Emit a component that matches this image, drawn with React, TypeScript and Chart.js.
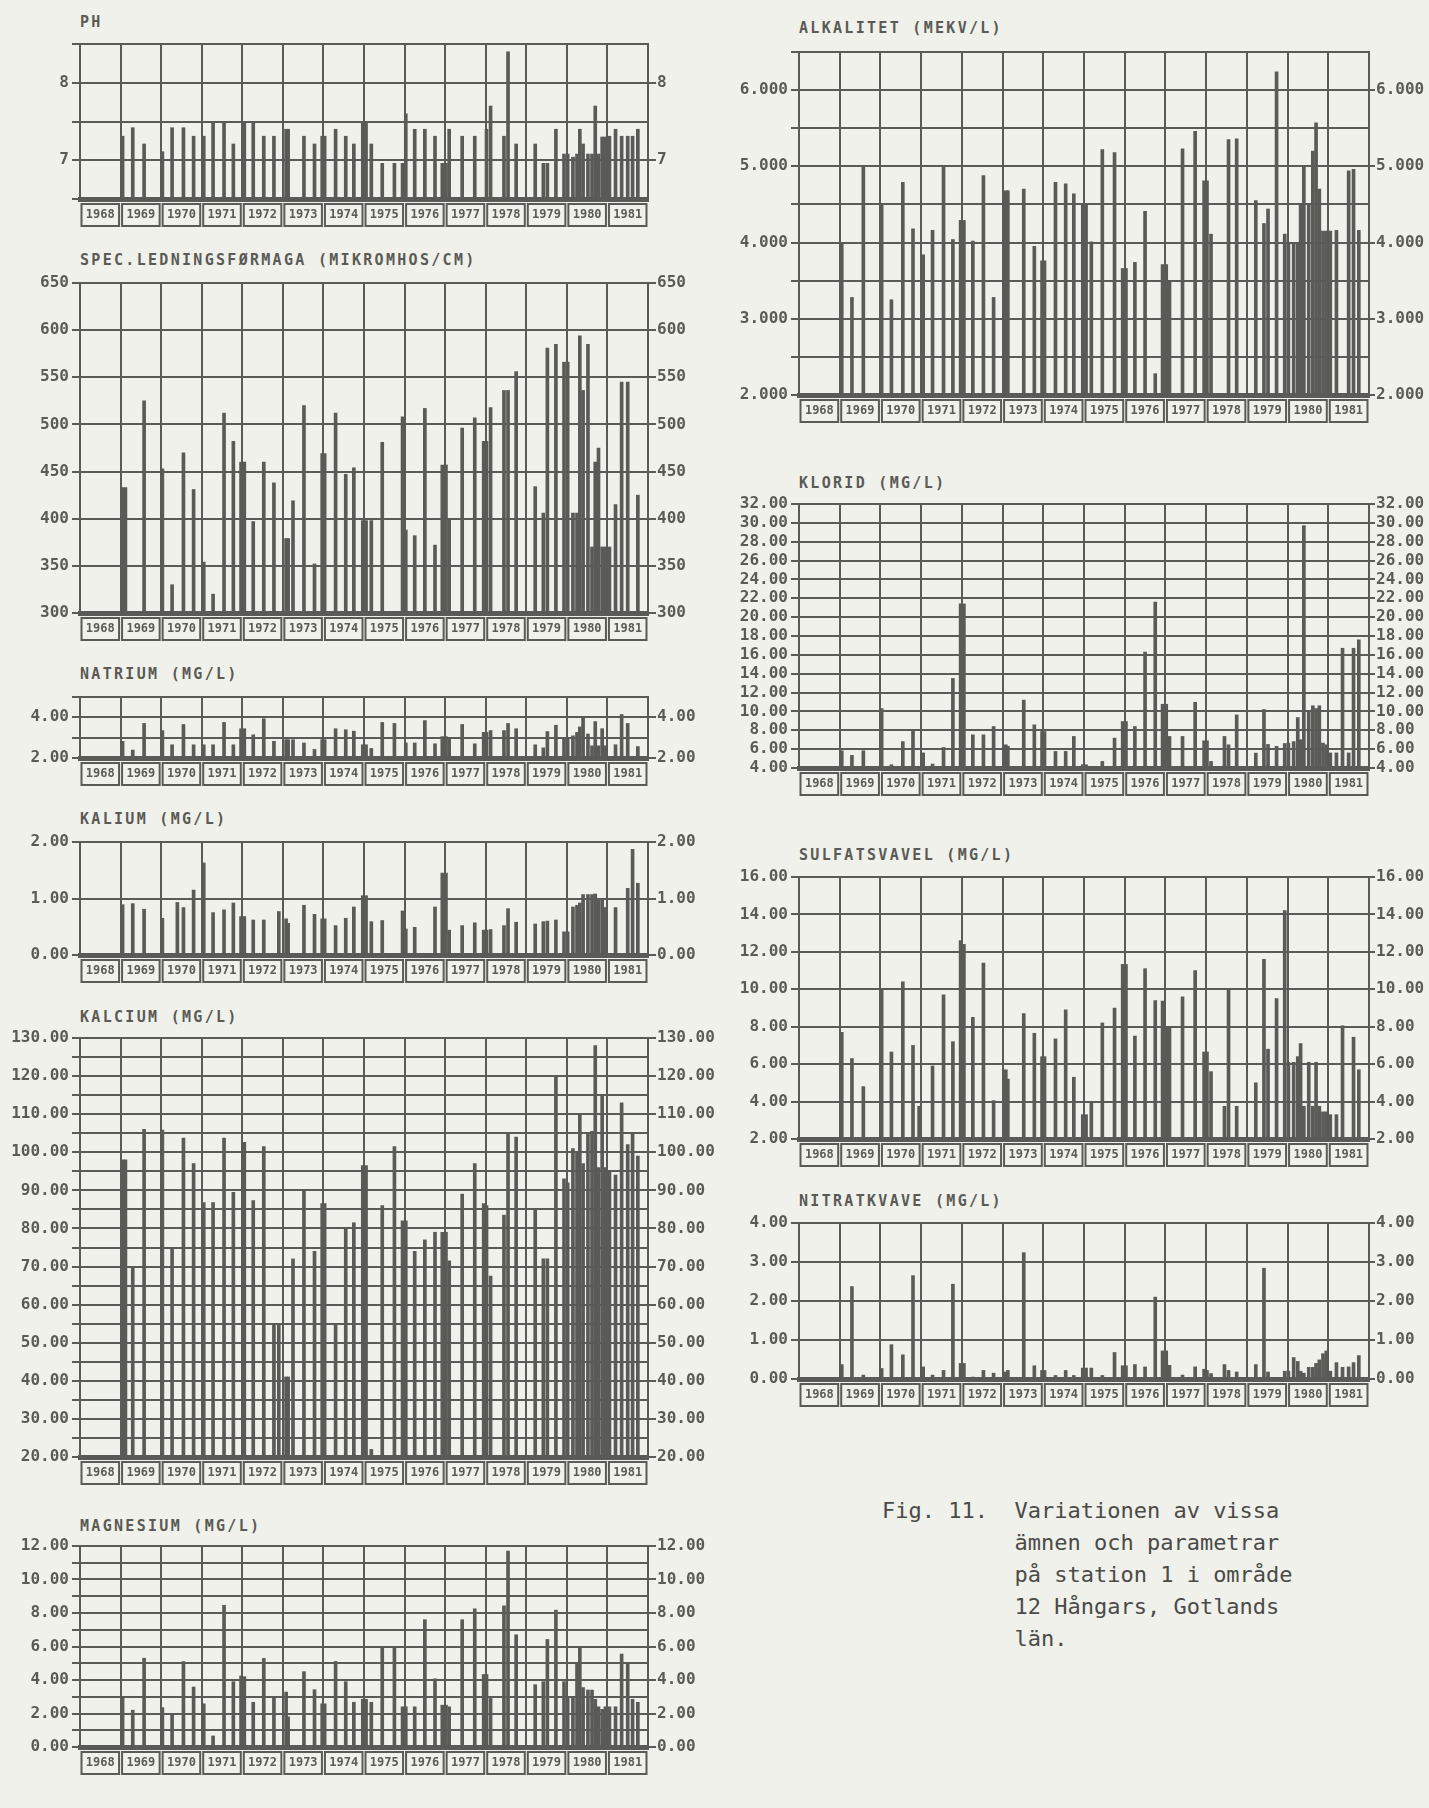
import React, { useEffect, useRef } from "react";
import { Chart, registerables } from "chart.js";

Chart.register(...registerables);

const INK = "#5a5a56";
const FONT = '"DejaVu Sans Mono", "Liberation Mono", monospace';
const N = null;

// ---------------- data ----------------
const YEARS = [1968, 1969, 1970, 1971, 1972, 1973, 1974, 1975, 1976, 1977, 1978, 1979, 1980, 1981];

// sampling dates (decimal years)
const DATES = [
  1969.05, 1969.12, 1969.3, 1969.58, 1969.85,
  1970.03, 1970.27, 1970.4, 1970.55, 1970.8, 1970.95,
  1971.05, 1971.28, 1971.55, 1971.78, 1971.97,
  1972.05, 1972.27, 1972.53, 1972.78, 1972.9,
  1973.08, 1973.13, 1973.25, 1973.52, 1973.78, 1973.97,
  1974.03, 1974.3, 1974.55, 1974.75, 1974.97,
  1975.05, 1975.18, 1975.45, 1975.75, 1975.95,
  1976.03, 1976.25, 1976.5, 1976.75, 1976.93,
  1977.02, 1977.1, 1977.42, 1977.73, 1977.95,
  1978.02, 1978.12, 1978.45, 1978.55, 1978.75, 1978.95,
  1979.22, 1979.42, 1979.52, 1979.73, 1979.93,
  1980.02, 1980.15, 1980.25, 1980.32, 1980.4, 1980.52, 1980.62, 1980.7, 1980.78, 1980.87, 1980.95,
  1981.05, 1981.2, 1981.35, 1981.5, 1981.62, 1981.75,
];

const PH = [
  7.31, N, 7.42, 7.21, N,
  7.11, 7.42, N, 7.42, 7.31, N,
  7.31, 7.5, 7.5, 7.21, N,
  7.5, 7.5, 7.31, 7.31, N,
  7.4, 7.4, N, 7.31, 7.21, 7.31,
  7.31, 7.4, 7.31, 7.21, 7.5,
  7.5, 7.21, 6.96, 6.96, 6.96,
  7.6, 7.4, 7.4, 7.31, 6.96,
  6.96, 7.4, 7.31, 7.31, N,
  7.4, 7.7, 7.31, 8.4, 7.21, N,
  7.21, 6.96, 6.96, 7.4, 7.08,
  7.08, 7.04, 7.08, 7.4, 7.21, 7.08, 7.08, 7.7, 7.08, 7.3, 7.3,
  7.31, 7.4, 7.31, 7.31, 7.31, 7.4,
];

const KONDUKTIVITET = [
  433, 433, N, 525, N,
  453, 330, N, 470, 431, N,
  354, 320, 512, 482, 460,
  460, 397, 460, 438, N,
  379, 379, 419, 520, 352, 469,
  469, 512, 447, 454, 398,
  398, 398, 481, N, 508,
  388, 382, 517, 372, 457,
  457, 399, 496, 507, 482,
  482, 518, 536, 536, 556, N,
  434, 406, 581, 585, 566,
  566, 406, 406, 594, 536, 585, 370, 460, 475, 370, 370,
  370, 415, 545, 545, N, 425,
];

const NATRIUM = [
  2.82, N, 2.39, 3.7, N,
  3.35, 2.65, N, 3.65, 2.65, N,
  2.65, 2.65, 3.75, 2.65, 3.44,
  3.44, 3.14, 3.93, 2.82, N,
  2.9, 2.9, 2.9, 2.74, 2.42, 2.9,
  2.9, 3.44, 3.39, 3.32, 2.65,
  2.65, 2.47, 3.75, 3.7, N,
  2.74, 2.74, 3.84, 2.7, 3.05,
  3.05, 3.0, 3.65, 2.7, 3.26,
  3.26, 3.35, 3.35, 3.7, 3.44, N,
  2.65, 2.5, 3.3, 3.61, 2.95,
  2.95, 3.09, 3.26, 3.53, 4.05, 3.18, 2.6, 3.79, 2.6, 3.44, 2.6,
  N, 2.65, 4.14, 3.7, N, 2.56,
];

const KALIUM = [
  0.89, N, 0.91, 0.81, N,
  0.65, N, 0.93, 0.84, 1.15, N,
  1.63, 0.75, 0.8, 0.92, 0.68,
  0.68, 0.62, 0.62, N, 0.77,
  0.64, 0.56, N, 0.88, 0.72, 0.64,
  0.64, 0.52, 0.65, 0.85, 1.05,
  1.05, 0.59, 0.61, N, 0.78,
  0.46, 0.49, N, 0.85, 1.45,
  1.45, 0.44, 0.52, 0.57, 0.44,
  0.44, 0.45, 0.52, 0.82, 0.58, N,
  0.55, 0.59, 0.6, 0.62, 0.41,
  0.41, 0.85, 0.88, 0.92, 1.07, 1.07, 1.07, 1.08, 1.0, 1.0, 0.84,
  N, 0.84, N, 1.18, 1.87, 1.27,
];

const KALCIUM = [
  98, 98, 70, 106, N,
  105.8, 75, N, 103.7, 97, N,
  86.8, 86.8, 103.7, 89.5, N,
  102.6, 87.3, 101.5, 54.8, 55,
  41, 41, 72, 90, 74, 86.5,
  86.5, 55, 80, 81.5, 96.5,
  96.5, 22, 86, 101.5, 82,
  82, 74, 77, 79, 79,
  79, 71.5, 89, 97, 86.5,
  86, 67.5, 83.5, 105, 104, N,
  85, 72, 72, 120, 93,
  92, 101, 100, 110, 97, 105, 105.5, 128, 96, 115, 96,
  95, 94, 113, 102, 105, 99,
];

const MAGNESIUM = [
  3.0, N, 2.2, 5.3, N,
  2.35, 1.97, N, 5.1, 3.58, N,
  2.58, 0.66, 8.46, 3.9, 4.24,
  4.2, 2.67, 5.29, 3.0, N,
  3.28, 1.8, N, 4.5, 3.42, 2.58,
  2.58, 5.11, 3.9, 2.67, 2.85,
  2.85, 2.67, 5.9, 5.9, 2.4,
  2.4, 2.4, 7.6, 4.07, 2.5,
  2.5, 2.4, 7.6, 8.25, 4.33,
  4.33, 2.9, 8.43, 11.7, 6.7, N,
  3.72, 3.9, 6.42, 8.17, 3.9,
  3.0, 3.0, 5.0, 6.0, 3.55, 3.4, 3.4, 2.85, 2.4, 2.25, 2.4,
  2.4, 2.4, 5.55, 5.0, 2.85, 2.67,
];

const ALKALITET = [
  4.0, N, 3.28, 5.0, N,
  4.49, 3.25, N, 4.79, 4.18, N,
  3.84, 4.16, 5.0, 4.04, 4.29,
  4.29, 4.02, 4.88, 3.28, N,
  4.68, 4.68, N, 4.7, 3.95, 3.76,
  3.76, 4.79, 4.77, 4.64, 4.5,
  4.5, 4.01, 5.22, 5.18, 3.66,
  3.66, 3.74, 4.41, 2.28, 3.71,
  3.71, 3.5, 5.23, 5.46, 4.81,
  4.81, 4.11, N, 5.35, 5.36, N,
  4.55, 4.25, 4.44, 6.24, 4.11,
  4.0, 3.98, 4.0, 4.5, 5.0, 4.5, 5.2, 5.57, 4.7, 4.15, 4.15,
  4.15, 4.16, N, 4.94, 4.96, 4.16,
];

const KLORID = [
  5.83, N, 5.34, 5.83, N,
  10.3, 4.35, N, 6.8, 7.9, N,
  5.6, 4.42, 6.18, 13.5, 21.4,
  21.4, 7.52, 7.52, 8.4, N,
  6.46, 6.3, N, 11.2, 8.58, 7.87,
  7.87, 5.76, 5.76, 7.35, 4.35,
  4.35, 4.18, 4.7, 7.17, 8.93,
  8.93, 8.4, 16.3, 21.6, 10.76,
  10.76, 7.35, 7.35, 10.97, 6.89,
  6.89, 4.7, 7.35, 6.46, 9.63, N,
  5.58, 10.2, 6.5, 6.3, 6.6,
  6.64, 6.8, 9.35, 7.0, 29.7, 10.0, 10.6, 10.3, 10.6, 6.64, 6.46,
  5.6, 5.6, 16.7, 5.6, 16.7, 17.6,
];

const SULFATSVAVEL = [
  7.7, N, 6.3, 4.8, N,
  10.0, 6.65, N, 10.4, 7.0, 3.75,
  N, 5.9, 9.7, 7.2, 12.6,
  12.4, 8.5, 11.4, 4.05, N,
  5.7, 5.2, N, 8.7, 7.65, 6.4,
  6.4, 7.35, 8.9, 5.3, 3.3,
  3.3, 4.0, 8.2, 9.0, 11.33,
  11.33, 7.5, 11.1, 9.4, 9.37,
  8.0, 8.0, 9.6, 11.0, 6.65,
  6.65, 5.6, 3.75, 10.0, 3.75, N,
  5.0, 11.6, 6.8, 9.5, 14.2,
  6.1, 6.1, 6.4, 7.1, 3.75, 6.1, 3.75, 6.1, 3.75, 3.45, 3.45,
  3.3, 3.3, 8.05, N, 7.44, 5.7,
];

const NITRATKVAVE = [
  0.37, N, 2.37, 0.1, N,
  0.27, 0.88, N, 0.62, 2.65, N,
  0.31, 0.1, 0.22, 2.43, 0.4,
  0.4, 0.05, 0.22, 0.15, N,
  0.18, 0.22, N, 3.24, 0.34, 0.22,
  0.22, 0.09, 0.22, 0.09, 0.28,
  0.28, 0.28, 0.09, 0.68, 0.34,
  0.34, 0.37, 0.31, 2.1, 0.72,
  0.72, 0.35, 0.1, 0.31, 0.25,
  0.22, 0.14, 0.37, 0.22, 0.18, N,
  0.37, 2.84, 0.18, 0.04, 0.2,
  0.2, 0.55, 0.45, 0.2, 0.15, 0.3, 0.3, 0.4, 0.49, 0.65, 0.72,
  0.2, 0.42, 0.3, 0.31, 0.42, 0.6,
];

const CAPTION_LINES = [
  "Fig. 11.  Variationen av vissa",
  "          ämnen och parametrar",
  "          på station 1 i område",
  "          12 Hångars, Gotlands",
  "          län.",
];

// ---------------- layout ----------------
type Col = "L" | "R";
const COLS: Record<Col, { l: number; r: number; lw: number; rw: number; tick: number }> = {
  L: { l: 80, r: 648, lw: 78, rw: 72, tick: 8 },
  R: { l: 799, r: 1369, lw: 90, rw: 60, tick: 6 },
};

interface PanelDef {
  title: string;
  values: (number | null)[];
  min: number;
  max: number;
  step: number;
  labelStep: number;
  decimals: number;
  col: Col;
  top: number;
  bottom: number;
  titleY: number;
}

const PANELS: PanelDef[] = [
  { title: "PH", values: PH, min: 6.5, max: 8.5, step: 0.5, labelStep: 1, decimals: 0, col: "L", top: 44, bottom: 199, titleY: 22 },
  { title: "SPEC.LEDNINGSFØRMAGA (MIKROMHOS/CM)", values: KONDUKTIVITET, min: 300, max: 650, step: 50, labelStep: 50, decimals: 0, col: "L", top: 283, bottom: 613, titleY: 260 },
  { title: "NATRIUM (MG/L)", values: NATRIUM, min: 2, max: 5, step: 1, labelStep: 2, decimals: 2, col: "L", top: 697, bottom: 758, titleY: 674 },
  { title: "KALIUM (MG/L)", values: KALIUM, min: 0, max: 2, step: 1, labelStep: 1, decimals: 2, col: "L", top: 842, bottom: 955, titleY: 819 },
  { title: "KALCIUM (MG/L)", values: KALCIUM, min: 20, max: 130, step: 5, labelStep: 10, decimals: 2, col: "L", top: 1038, bottom: 1457, titleY: 1017 },
  { title: "MAGNESIUM (MG/L)", values: MAGNESIUM, min: 0, max: 12, step: 1, labelStep: 2, decimals: 2, col: "L", top: 1546, bottom: 1747, titleY: 1526 },
  { title: "ALKALITET (MEKV/L)", values: ALKALITET, min: 2, max: 6.5, step: 0.5, labelStep: 1, decimals: 3, col: "R", top: 52, bottom: 395, titleY: 28 },
  { title: "KLORID (MG/L)", values: KLORID, min: 4, max: 32, step: 2, labelStep: 2, decimals: 2, col: "R", top: 504, bottom: 768, titleY: 483 },
  { title: "SULFATSVAVEL (MG/L)", values: SULFATSVAVEL, min: 2, max: 16, step: 2, labelStep: 2, decimals: 2, col: "R", top: 877, bottom: 1139, titleY: 855 },
  { title: "NITRATKVAVE (MG/L)", values: NITRATKVAVE, min: 0, max: 4, step: 1, labelStep: 1, decimals: 2, col: "R", top: 1223, bottom: 1379, titleY: 1201 },
];

const PADT = 12;
const BOTTOM_H = 34;

const yearStrip = {
  id: "yearStrip",
  afterDraw(chart: any) {
    const { ctx, chartArea, scales } = chart;
    const x = scales.x;
    ctx.save();
    ctx.strokeStyle = INK;
    ctx.lineWidth = 2;
    const y0 = chartArea.bottom + 5;
    const h = 22;
    for (const yr of YEARS) {
      const a = x.getPixelForValue(yr);
      const b = x.getPixelForValue(yr + 1);
      ctx.strokeRect(a + 1.5, y0, b - a - 3, h);
    }
    ctx.restore();
  },
};

function Panel({ def }: { def: PanelDef }) {
  const ref = useRef<HTMLCanvasElement | null>(null);
  const c = COLS[def.col];
  const w = c.lw + (c.r - c.l) + c.rw;
  const h = PADT + (def.bottom - def.top) + BOTTOM_H;

  useEffect(() => {
    if (!ref.current) return;
    const eps = 1e-6;
    const isLabel = (v: number) => Math.abs(v / def.labelStep - Math.round(v / def.labelStep)) < eps;
    const fmt = (v: number) => v.toFixed(def.decimals);
    const gridVals: number[] = [];
    for (let v = def.min; v <= def.max + eps; v += def.step) gridVals.push(+v.toFixed(6));
    const labelVals = gridVals.filter(isLabel);
    const data = DATES.map((d, i) => ({ x: d, y: def.values[i] })).filter((p) => p.y !== null);
    const tickFont = { family: FONT, size: 16, weight: "bold" as const };

    const chart = new Chart(ref.current, {
      type: "bar",
      data: {
        datasets: [
          {
            data: data as any,
            backgroundColor: INK,
            borderWidth: 0,
            barThickness: 3,
            base: def.min,
            xAxisID: "x",
            yAxisID: "y",
          } as any,
        ],
      },
      options: {
        animation: false,
        responsive: false,
        devicePixelRatio: 1,
        layout: { padding: { top: PADT, left: 0, right: 0, bottom: 0 } },
        plugins: { legend: { display: false }, tooltip: { enabled: false }, title: { display: false } },
        scales: {
          x: {
            type: "linear",
            min: 1968,
            max: 1982,
            offset: false,
            afterBuildTicks: (s: any) => {
              const t: { value: number }[] = [];
              for (const y of YEARS) {
                t.push({ value: y });
                t.push({ value: y + 0.5 });
              }
              t.push({ value: 1982 });
              s.ticks = t;
            },
            afterFit: (s: any) => {
              s.height = BOTTOM_H;
              s.paddingLeft = 0;
              s.paddingRight = 0;
            },
            grid: {
              offset: false,
              color: (ctx: any) => (ctx.tick && Number.isInteger(ctx.tick.value) ? INK : "rgba(0,0,0,0)"),
              lineWidth: 2,
              drawTicks: false,
            },
            border: { display: true, color: INK, width: 5 },
            ticks: {
              autoSkip: false,
              maxRotation: 0,
              minRotation: 0,
              padding: 9,
              color: INK,
              font: { family: FONT, size: 12, weight: "bold" },
              callback: (v: any) => (Number.isInteger(v) ? "" : String(Math.floor(v))),
            },
          } as any,
          y: {
            type: "linear",
            position: "left",
            min: def.min,
            max: def.max,
            beginAtZero: false,
            afterBuildTicks: (s: any) => {
              s.ticks = gridVals.map((v) => ({ value: v }));
            },
            afterFit: (s: any) => {
              s.width = c.lw;
              s.paddingTop = 0;
              s.paddingBottom = 0;
            },
            grid: { color: INK, lineWidth: 2, drawTicks: true, tickLength: 8 },
            border: { display: true, color: INK, width: 2 },
            ticks: {
              autoSkip: false,
              padding: 3,
              color: INK,
              font: tickFont,
              callback: (v: any) => (isLabel(Number(v)) ? fmt(Number(v)) : ""),
            },
          } as any,
          y2: {
            type: "linear",
            position: "right",
            min: def.min,
            max: def.max,
            beginAtZero: false,
            afterBuildTicks: (s: any) => {
              s.ticks = labelVals.map((v) => ({ value: v }));
            },
            afterFit: (s: any) => {
              s.width = c.rw;
              s.paddingTop = 0;
              s.paddingBottom = 0;
            },
            grid: { drawOnChartArea: false, color: INK, lineWidth: 2, drawTicks: true, tickLength: c.tick },
            border: { display: true, color: INK, width: 2 },
            ticks: {
              autoSkip: false,
              padding: 1,
              color: INK,
              font: tickFont,
              callback: (v: any) => fmt(Number(v)),
            },
          } as any,
        },
      },
      plugins: [yearStrip],
    });
    return () => chart.destroy();
  }, []);

  return (
    <>
      <div
        style={{
          position: "absolute",
          left: c.l,
          top: def.titleY - 10,
          height: 20,
          lineHeight: "20px",
          fontFamily: FONT,
          fontWeight: "bold",
          fontSize: 15,
          letterSpacing: "2.3px",
          color: INK,
          whiteSpace: "pre",
        }}
      >
        {def.title}
      </div>
      <canvas
        ref={ref}
        width={w}
        height={h}
        style={{ position: "absolute", left: c.l - c.lw, top: def.top - PADT, width: w, height: h }}
      />
    </>
  );
}

export default function App() {
  return (
    <div
      style={{
        position: "absolute",
        left: 0,
        top: 0,
        width: 1429,
        height: 1808,
        background: "#f0f1ea",
        overflow: "hidden",
      }}
    >
      {PANELS.map((p) => (
        <Panel key={p.title} def={p} />
      ))}
      <div
        style={{
          position: "absolute",
          left: 882,
          top: 1495,
          fontFamily: FONT,
          fontSize: 22,
          lineHeight: "32px",
          color: "#4a4a48",
          whiteSpace: "pre",
        }}
      >
        {CAPTION_LINES.join("\n")}
      </div>
    </div>
  );
}
